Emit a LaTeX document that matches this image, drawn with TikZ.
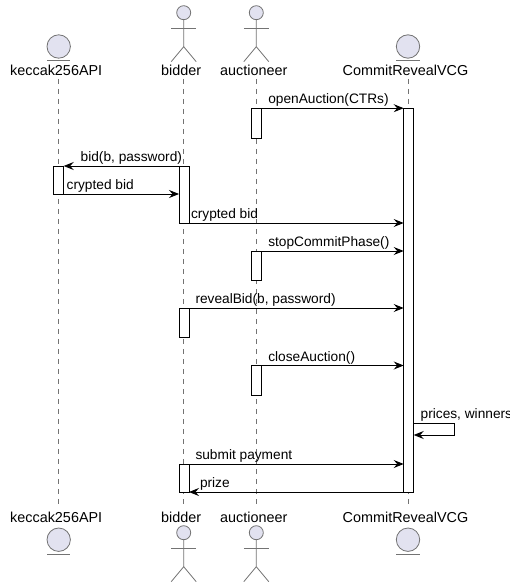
\documentclass[tikz,border=0pt]{standalone}
\usepackage{fontspec}
\setmainfont{Liberation Sans}
\usetikzlibrary{arrows.meta}
\definecolor{entfill}{HTML}{E2E2F0}

\begin{document}
\begin{tikzpicture}[x=1pt, y=-1pt,
	every node/.style={inner sep=0pt, outer sep=0pt},
	party/.style={font=\fontsize{14.4}{16}\selectfont, anchor=base},
	lbl/.style={font=\fontsize{13.7}{15}\selectfont, anchor=base west},
	ent/.style={circle, draw=black!55, fill=entfill, line width=0.8pt, minimum size=23.4pt},
	head/.style={circle, draw=black!55, fill=entfill, line width=0.8pt, minimum size=14pt},
	stick/.style={draw=black!55, line width=0.8pt},
	life/.style={draw=black!55, line width=0.7pt, dash pattern=on 5pt off 5pt},
	act/.style={rectangle, draw=black, fill=white, line width=0.9pt, minimum width=10pt, minimum height=#1},
	msg/.style={draw=black, line width=0.9pt, -{Stealth[length=10pt, width=8pt, inset=3.5pt]}}]
			\useasboundingbox (0,0) rectangle (509,585);
			
			\node[ent] (kTop) at (58.7,46.5){};
			\draw[stick] ([xshift=-11.7pt,yshift=-2.5pt]kTop.south) -- ([xshift=11.7pt,yshift=-2.5pt]kTop.south);
			\node[ent] (cTop) at (408,46.5){};
			\draw[stick] ([xshift=-11.7pt,yshift=-2.5pt]cTop.south) -- ([xshift=11.7pt,yshift=-2.5pt]cTop.south);
			\node[ent] (kBot) at (58.7,539.7){};
			\draw[stick] ([xshift=-11.7pt,yshift=-2.5pt]kBot.south) -- ([xshift=11.7pt,yshift=-2.5pt]kBot.south);
			\node[ent] (cBot) at (408,539.7){};
			\draw[stick] ([xshift=-11.7pt,yshift=-2.5pt]cBot.south) -- ([xshift=11.7pt,yshift=-2.5pt]cBot.south);
			
			\node[head] (bTop) at (183.7,12.7){};
			\draw[stick] (bTop.south) -- ++(0,27) coordinate (bTopHip) -- ++(-12.5,15);
			\draw[stick] (bTopHip) -- ++(12.5,15);
			\draw[stick] ([yshift=-15.6pt]bTop.center) ++(-12.5,0) -- ++(25,0);
			\node[head] (aTop) at (256.3,12.7){};
			\draw[stick] (aTop.south) -- ++(0,27) coordinate (aTopHip) -- ++(-12.5,15);
			\draw[stick] (aTopHip) -- ++(12.5,15);
			\draw[stick] ([yshift=-15.6pt]aTop.center) ++(-12.5,0) -- ++(25,0);
			\node[head] (bBot) at (183.7,532.7){};
			\draw[stick] (bBot.south) -- ++(0,27) coordinate (bBotHip) -- ++(-12.5,15);
			\draw[stick] (bBotHip) -- ++(12.5,15);
			\draw[stick] ([yshift=-15.6pt]bBot.center) ++(-12.5,0) -- ++(25,0);
			\node[head] (aBot) at (256.3,532.7){};
			\draw[stick] (aBot.south) -- ++(0,27) coordinate (aBotHip) -- ++(-12.5,15);
			\draw[stick] (aBotHip) -- ++(12.5,15);
			\draw[stick] ([yshift=-15.6pt]aBot.center) ++(-12.5,0) -- ++(25,0);
			
			\node[party] (kTopL) at (56.2,76){keccak256API};
			\node[party] (bTopL) at (181.2,76){bidder};
			\node[party] (aTopL) at (253.8,76){auctioneer};
			\node[party] (cTopL) at (405.5,76){CommitRevealVCG};
			\node[party] (kBotL) at (56.2,522){keccak256API};
			\node[party] (bBotL) at (181.2,522){bidder};
			\node[party] (aBotL) at (253.8,522){auctioneer};
			\node[party] (cBotL) at (405.5,522){CommitRevealVCG};
			
			\coordinate (kS) at (58.7,79);
			\coordinate (kE) at (58.7,508);
			\coordinate (bS) at (183.7,79);
			\coordinate (bE) at (183.7,508);
			\coordinate (aS) at (256.3,79);
			\coordinate (aE) at (256.3,508);
			\coordinate (cS) at (408,79);
			\coordinate (cE) at (408,508);
			\path[life] (kS) -- (kE);
			\path[life] (bS) -- (bE);
			\path[life] (aS) -- (aE);
			\path[life] (cS) -- (cE);
			
			\node[act=384pt] (actC) at (408.7,300){};
			\node[act=30pt] (actA1) at (256.3,123.2){};
			\node[act=28pt] (actK) at (58.7,180){};
			\node[act=57pt] (actB1) at (184,194.5){};
			\node[act=29pt] (actA2) at (256.3,265.5){};
			\node[act=29pt] (actB2) at (184,322.5){};
			\node[act=30pt] (actA3) at (256.3,380.5){};
			\node[act=28pt] (actB3) at (184,478){};
			
			\coordinate (loopR) at (454,423);
			\coordinate (loopE) at (454,435);
			
			\path[msg] (actA1.north east) -- (actC.west |- actA1.north east);
			\path[msg] (actB1.north west) -- (actK.north east);
			\path[msg] (actK.south east) -- (actB1.west |- actK.south east);
			\path[msg] (actB1.south east) -- (actC.west |- actB1.south east);
			\path[msg] (actA2.north east) -- (actC.west |- actA2.north east);
			\path[msg] (actB2.north east) -- (actC.west |- actB2.north east);
			\path[msg] (actA3.north east) -- (actC.west |- actA3.north east);
			\path[msg] (actC.east |- loopR) -- (loopR) -- (loopE) -- (actC.east |- loopE);
			\path[msg] (actB3.north east) -- (actC.west |- actB3.north east);
			\path[msg] (actC.south west) -- (actB3.south east);
			
			\node[lbl] (m1) at ([xshift=7pt,yshift=4.5pt]actA1.north east){openAuction(CTRs)};
			\node[lbl] (m2) at ([xshift=17pt,yshift=4.5pt]actK.north east){bid(b, password)};
			\node[lbl] (m3) at ([xshift=3pt,yshift=4.5pt]actK.south east){crypted bid};
			\node[lbl] (m4) at ([xshift=2pt,yshift=4.5pt]actB1.south east){crypted bid};
			\node[lbl] (m5) at ([xshift=7pt,yshift=4.5pt]actA2.north east){stopCommitPhase()};
			\node[lbl] (m6) at ([xshift=6.5pt,yshift=4.5pt]actB2.north east){revealBid(b, password)};
			\node[lbl] (m7) at ([xshift=7pt,yshift=4.5pt]actA3.north east){closeAuction()};
			\node[lbl] (m8) at ([xshift=7pt,yshift=4.5pt]actC.east |- loopR){prices, winners};
			\node[lbl] (m9) at ([xshift=6.5pt,yshift=4.5pt]actB3.north east){submit payment};
			\node[lbl] (m10) at ([xshift=11pt,yshift=4.5pt]actB3.south east){prize};
			\end{tikzpicture}
\end{document}
